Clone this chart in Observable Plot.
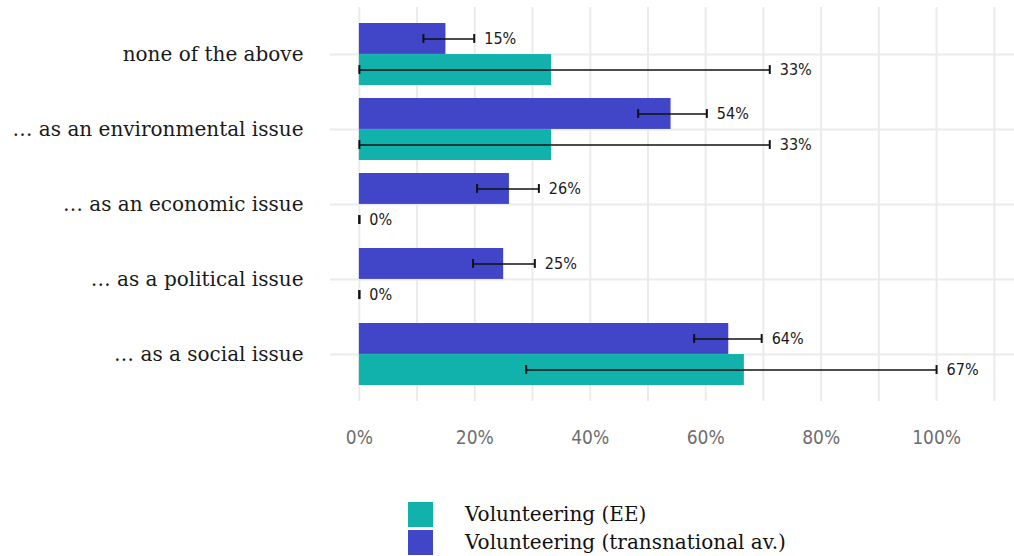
<!DOCTYPE html>
<html>
<head>
<meta charset="utf-8">
<script src="https://cdn.jsdelivr.net/npm/d3@7"></script>
<script src="https://cdn.jsdelivr.net/npm/@observablehq/plot@0.6"></script>
<style>
  html, body { margin: 0; padding: 0; background: #fff; }
  #wrap { position: relative; width: 1014px; height: 556px; }
  #chart svg { display: block; }
  #chart g[aria-label^="y-axis"] text { font-family: "DejaVu Serif", serif; font-size: 20px; fill: #1a1a1a; }
  #chart g[aria-label^="x-axis"] text { font-family: "DejaVu Sans Condensed", "DejaVu Sans", sans-serif; font-stretch: condensed; font-size: 19px; fill: #6e6e6e; }
  .barlab { font-family: "DejaVu Sans Condensed", "DejaVu Sans", sans-serif; font-stretch: condensed; }
  #legend { position: absolute; left: 408px; top: 500px; font-family: "DejaVu Serif", serif; font-size: 20px; color: #111; }
  .item { display: flex; align-items: center; height: 28px; }
  .sw { width: 25px; height: 25px; margin-right: 32px; }
</style>
</head>
<body>
<div id="wrap">
  <div id="chart"></div>
  <div id="legend"></div>
</div>
<script>
const categories = ["none of the above", "… as an environmental issue", "… as an economic issue", "… as a political issue", "… as a social issue"];
const seriesNames = ["Volunteering (EE)", "Volunteering (transnational av.)"];
const seriesColors = ["#11b2ac", "#4146c9"];

const transValues = [0.15, 0.54, 0.26, 0.25, 0.64];
const transLow    = [0.111, 0.483, 0.204, 0.197, 0.580];
const transHigh   = [0.199, 0.602, 0.311, 0.304, 0.697];

const eeValues = [0.333, 0.333, 0, 0, 0.667];
const eeLow    = [0, 0, 0, 0, 0.289];
const eeHigh   = [0.711, 0.711, 0, 0, 1.0];

const xTickLabels = [0, 0.2, 0.4, 0.6, 0.8, 1.0];
const gridTicks = [0, 0.1, 0.2, 0.3, 0.4, 0.5, 0.6, 0.7, 0.8, 0.9, 1.0, 1.1];

const trans = categories.map((c, i) => ({category: c, value: transValues[i], lo: transLow[i], hi: transHigh[i]}));
const ee = categories.map((c, i) => ({category: c, value: eeValues[i], lo: eeLow[i], hi: eeHigh[i]}));

const marginTop = 7, panelBottom = 401;
const pIn = 0.18, pOut = 0.19;
const step = (panelBottom - marginTop) / (categories.length - pIn + 2 * pOut);
const bw = step * (1 - pIn);
const half = bw / 2;
const capH = 9;
const fmt = d3.format(".0%");

const chart = Plot.plot({
  width: 1014,
  height: 462,
  marginLeft: 330,
  marginRight: 0,
  marginTop: marginTop,
  marginBottom: 462 - panelBottom,
  x: {domain: [-0.05, 1.135], ticks: xTickLabels, tickFormat: fmt, tickSize: 0, tickPadding: 29, label: null},
  y: {domain: categories, paddingInner: pIn, paddingOuter: pOut, tickSize: 0, tickPadding: 27, label: null},
  marks: [
    Plot.ruleX(gridTicks, {x: d => d, stroke: "#ebebeb", strokeWidth: 2, strokeOpacity: 1}),
    Plot.ruleY(categories, {y: d => d, stroke: "#ebebeb", strokeWidth: 2, strokeOpacity: 1}),
    Plot.barX(trans, {x: "value", y: "category", fill: seriesColors[1], insetBottom: half}),
    Plot.barX(ee, {x: "value", y: "category", fill: seriesColors[0], insetTop: half}),
    Plot.ruleY(trans, {y: "category", x1: "lo", x2: "hi", dy: -half / 2, stroke: "#111", strokeWidth: 1.6}),
    Plot.ruleY(ee, {y: "category", x1: "lo", x2: "hi", dy: half / 2, stroke: "#111", strokeWidth: 1.6}),
    Plot.tickX(trans, {x: "lo", y: "category", insetTop: half / 2 - capH / 2, insetBottom: bw - half / 2 - capH / 2, stroke: "#111", strokeWidth: 2}),
    Plot.tickX(trans, {x: "hi", y: "category", insetTop: half / 2 - capH / 2, insetBottom: bw - half / 2 - capH / 2, stroke: "#111", strokeWidth: 2}),
    Plot.tickX(ee, {x: "lo", y: "category", insetTop: half * 1.5 - capH / 2, insetBottom: half / 2 - capH / 2, stroke: "#111", strokeWidth: 2}),
    Plot.tickX(ee, {x: "hi", y: "category", insetTop: half * 1.5 - capH / 2, insetBottom: half / 2 - capH / 2, stroke: "#111", strokeWidth: 2}),
    Plot.text(trans, {x: "hi", y: "category", text: d => fmt(d.value), dx: 10, dy: -half / 2, textAnchor: "start", fontSize: 16, fill: "#1a1a1a", className: "barlab"}),
    Plot.text(ee, {x: "hi", y: "category", text: d => fmt(d.value), dx: 10, dy: half / 2, textAnchor: "start", fontSize: 16, fill: "#1a1a1a", className: "barlab"})
  ]
});
document.getElementById("chart").appendChild(chart);

const legend = document.getElementById("legend");
seriesNames.forEach((name, i) => {
  const item = document.createElement("div");
  item.className = "item";
  const sw = document.createElement("div");
  sw.className = "sw";
  sw.style.background = seriesColors[i];
  const lab = document.createElement("span");
  lab.textContent = name;
  item.appendChild(sw);
  item.appendChild(lab);
  legend.appendChild(item);
});
</script>
</body>
</html>
